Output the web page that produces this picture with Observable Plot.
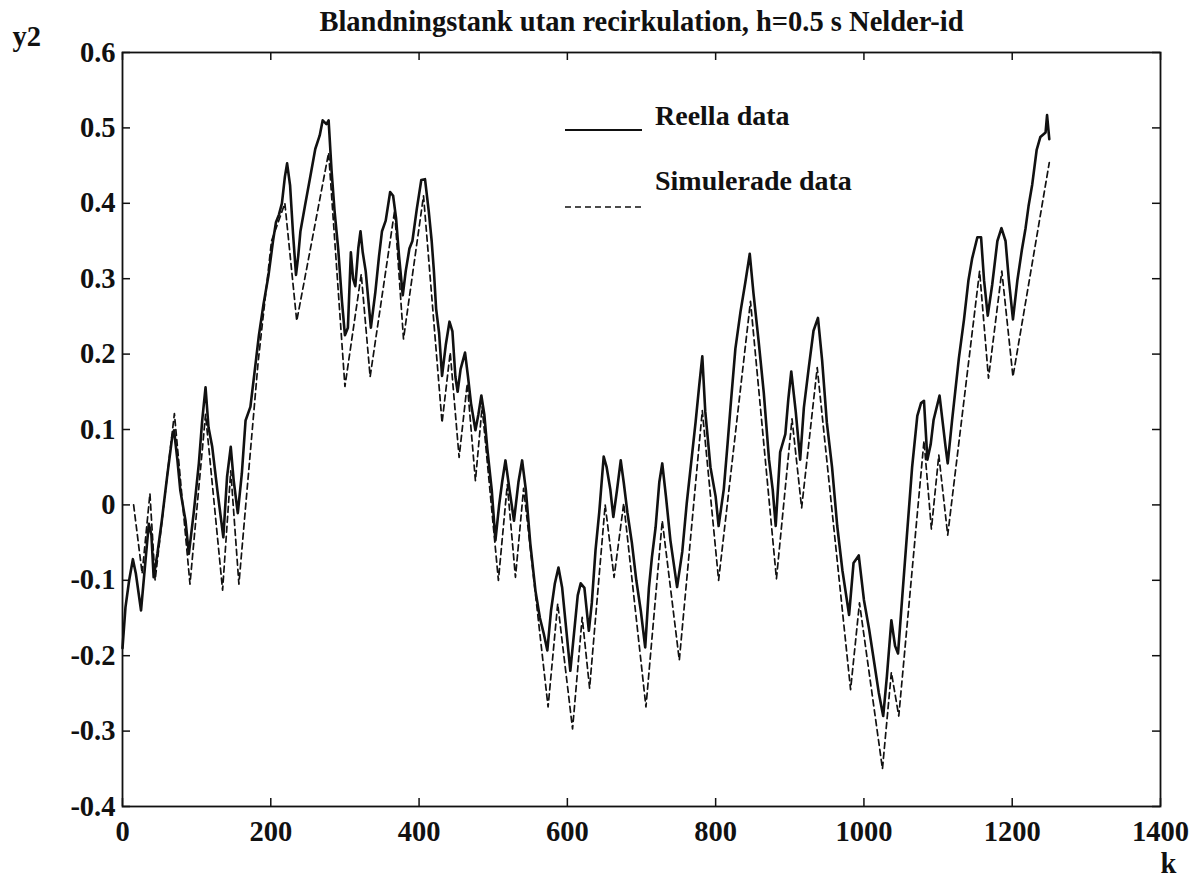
<!DOCTYPE html>
<html><head><meta charset="utf-8">
<script src="https://cdn.jsdelivr.net/npm/d3@7"></script>
<script src="https://cdn.jsdelivr.net/npm/@observablehq/plot@0.6"></script>
<style>
html,body{margin:0;padding:0;background:#fff;}
#wrap{position:relative;width:1203px;height:882px;}
#wrap svg, #wrap svg text{font-family:'Liberation Serif','DejaVu Serif',serif !important;}
#wrap svg text{font-weight:bold;}
#legend{position:absolute;left:0;top:0;pointer-events:none;}
</style></head>
<body><div id="wrap"></div>
<script>
// ---- data ----
const realK = [0,4,9,14,18,25,31,35.5,39,42,47,53,60,67,69.5,74,78,85,89.5,96,103,107.5,112,116,121,128,136,141,146,150,155.5,161,166,172.5,178,184,190,197,203,207,211,215,219,222,226,230,234,237,240,246,253,260,266,270,275,278,282,286,291,296,300,304,308,311,314,318,321,324,328,335,341,346,350,355,361,365,369,373,378,382,387,391,397,403,408,413,417,420,423,427,431,436,441,445,449,452,456,462,466,470,476,480,484,488,492,498,503,508,512,516.5,522,528,534,539,544,550,557,563,568,573,578,583,588,593,598,604,610,614,618,623,629,633,638,643,649,653,658,662,667,672,676,681,687,693,699,705,710,714,719,724,728,733,739,748,755,761,768,773,778,782,786,793,800,804,811,816,820,826.6,833.5,840,846,851,858,865,872,877,881,887,894,898,902,908,914,919,925.6,932,938,943.6,950,957,964,971,980,986,993,1000,1007,1014,1020,1026,1031,1037,1042,1046,1052,1058,1065,1072,1077,1081,1085.6,1090,1094,1102,1110,1113,1119,1128,1135,1141,1146,1153,1158,1162,1167,1173,1180,1185.5,1191,1195.5,1201,1207,1213,1218,1222,1227,1233,1238,1245,1247,1250];
const realY = [-0.19,-0.136,-0.10,-0.072,-0.091,-0.14,-0.074,-0.025,-0.04,-0.096,-0.065,-0.021,0.036,0.09,0.099,0.06,0.019,-0.021,-0.065,-0.011,0.055,0.112,0.156,0.103,0.077,0.019,-0.043,0.037,0.077,0.032,-0.011,0.042,0.112,0.13,0.175,0.225,0.265,0.305,0.35,0.375,0.385,0.40,0.435,0.453,0.424,0.36,0.305,0.33,0.363,0.396,0.434,0.472,0.49,0.51,0.505,0.51,0.443,0.39,0.339,0.27,0.225,0.235,0.335,0.30,0.29,0.34,0.363,0.335,0.31,0.235,0.282,0.33,0.363,0.377,0.415,0.41,0.38,0.33,0.278,0.31,0.34,0.35,0.393,0.431,0.432,0.39,0.35,0.31,0.26,0.228,0.171,0.212,0.243,0.23,0.17,0.15,0.18,0.202,0.17,0.135,0.099,0.12,0.145,0.12,0.075,0.02,-0.047,0.0,0.03,0.059,0.02,-0.021,0.03,0.059,0.02,-0.051,-0.114,-0.15,-0.17,-0.193,-0.14,-0.105,-0.083,-0.11,-0.16,-0.22,-0.16,-0.12,-0.104,-0.11,-0.167,-0.13,-0.06,-0.01,0.064,0.05,0.02,-0.016,0.02,0.059,0.03,-0.01,-0.05,-0.10,-0.14,-0.189,-0.11,-0.07,-0.03,0.03,0.055,0.011,-0.047,-0.109,-0.062,0.002,0.065,0.11,0.16,0.197,0.124,0.05,0.011,-0.028,0.021,0.08,0.129,0.207,0.256,0.295,0.333,0.281,0.217,0.148,0.06,0.02,-0.028,0.07,0.094,0.14,0.177,0.124,0.06,0.129,0.182,0.231,0.248,0.192,0.109,0.05,-0.028,-0.087,-0.146,-0.077,-0.067,-0.126,-0.165,-0.21,-0.249,-0.28,-0.227,-0.153,-0.187,-0.197,-0.118,-0.04,0.05,0.118,0.135,0.138,0.06,0.08,0.113,0.145,0.078,0.055,0.113,0.194,0.246,0.298,0.327,0.355,0.355,0.298,0.251,0.292,0.35,0.367,0.35,0.298,0.246,0.298,0.338,0.367,0.396,0.425,0.471,0.488,0.494,0.517,0.485];
const simK = [15,26.5,37,44,70,91,112,135,146,157,183,201,219,235,278,300,322,334,367,379,406,431,442,454,465,476,485,507,519,530,541,574,587,607,620,630,651,663,676,706,728,751,782,804,847,882,903,916,937,982,994,1025,1037,1047,1081,1091,1101,1113,1156,1168,1186,1201,1250];
const simY = [0.0,-0.091,0.015,-0.10,0.121,-0.105,0.12,-0.113,0.045,-0.105,0.19,0.35,0.40,0.244,0.467,0.157,0.306,0.17,0.39,0.22,0.41,0.109,0.202,0.063,0.161,0.032,0.13,-0.10,0.027,-0.096,0.022,-0.268,-0.131,-0.297,-0.149,-0.243,0.0,-0.096,0.002,-0.268,-0.021,-0.206,0.125,-0.10,0.27,-0.098,0.114,-0.004,0.182,-0.245,-0.13,-0.35,-0.222,-0.28,0.085,-0.032,0.066,-0.04,0.31,0.168,0.31,0.17,0.454];
const xTicks = [0,200,400,600,800,1000,1200,1400];
const yTicks = [-0.4,-0.3,-0.2,-0.1,0,0.1,0.2,0.3,0.4,0.5,0.6];
const titleText = "Blandningstank utan recirkulation, h=0.5 s Nelder-id";
const yLabel = "y2";
const xLabel = "k";
const seriesNames = ["Reella data", "Simulerade data"];

// ---- build tables ----
const real = realK.map((k, i) => ({k, y: realY[i]}));
const sim = simK.map((k, i) => ({k, y: simY[i]}));

const FONT = "'Liberation Serif','DejaVu Serif',serif";
const W = 1203, H = 882, mL = 122, mR = 43, mT = 52, mB = 76;
const innerW = W - mL - mR, innerH = H - mT - mB;
const ink = "#111";
const tickLen = 8;
const FS = 28.5;

const chart = Plot.plot({
  width: W, height: H,
  marginLeft: mL, marginRight: mR, marginTop: mT, marginBottom: mB,
  style: {fontFamily: FONT, fontSize: FS + "px", color: ink, background: "#fff", overflow: "visible"},
  x: {domain: [0, 1400]},
  y: {domain: [-0.4, 0.6]},
  marks: [
    Plot.line(sim, {x: "k", y: "y", stroke: ink, strokeWidth: 1.7, strokeDasharray: "6,4"}),
    Plot.line(real, {x: "k", y: "y", stroke: ink, strokeWidth: 2.6, strokeLinejoin: "round"}),
    Plot.frame({stroke: ink, strokeWidth: 1.8}),
    Plot.tickX(xTicks, {x: d => d, insetTop: innerH - tickLen, stroke: ink, strokeWidth: 1.5}),
    Plot.tickX(xTicks, {x: d => d, insetBottom: innerH - tickLen, stroke: ink, strokeWidth: 1.5}),
    Plot.tickY(yTicks, {y: d => d, insetRight: innerW - tickLen, stroke: ink, strokeWidth: 1.5}),
    Plot.tickY(yTicks, {y: d => d, insetLeft: innerW - tickLen, stroke: ink, strokeWidth: 1.5}),
    Plot.axisX(xTicks, {tickSize: 0, tickPadding: 14, tickFormat: d => String(d), label: null, fontSize: FS}),
    Plot.axisY(yTicks, {tickSize: 0, tickPadding: 7, tickFormat: d => String(d), label: null, fontSize: FS}),
    Plot.text([titleText], {frameAnchor: "top", lineAnchor: "bottom", dy: -22, fontSize: 28.5, fill: ink}),
    Plot.text([yLabel], {frameAnchor: "top-left", textAnchor: "start", lineAnchor: "bottom", dx: -110, dy: -7, fontSize: FS, fill: ink}),
    Plot.text([xLabel], {frameAnchor: "bottom-right", textAnchor: "middle", lineAnchor: "bottom", dx: 8, dy: 66, fontSize: FS, fill: ink})
  ]
});
const wrap = document.getElementById("wrap");
wrap.appendChild(chart);

// ---- legend (overlay) ----
const ns = "http://www.w3.org/2000/svg";
const lg = document.createElementNS(ns, "svg");
lg.setAttribute("id", "legend");
lg.setAttribute("width", W); lg.setAttribute("height", H);
const items = [
  {name: seriesNames[0], ly: 130, ty: 125, dash: null, sw: 2.2},
  {name: seriesNames[1], ly: 207, ty: 190, dash: "6,4", sw: 1.7}
];
for (const it of items) {
  const l = document.createElementNS(ns, "line");
  l.setAttribute("x1", 565); l.setAttribute("x2", 642);
  l.setAttribute("y1", it.ly); l.setAttribute("y2", it.ly);
  l.setAttribute("stroke", ink); l.setAttribute("stroke-width", it.sw);
  if (it.dash) l.setAttribute("stroke-dasharray", it.dash);
  lg.appendChild(l);
  const t = document.createElementNS(ns, "text");
  t.setAttribute("x", 655); t.setAttribute("y", it.ty);
  t.setAttribute("font-size", 28); t.setAttribute("fill", ink);
  t.setAttribute("font-weight", "bold");
  t.setAttribute("font-family", FONT);
  t.textContent = it.name;
  lg.appendChild(t);
}
wrap.appendChild(lg);
</script>
</body></html>
